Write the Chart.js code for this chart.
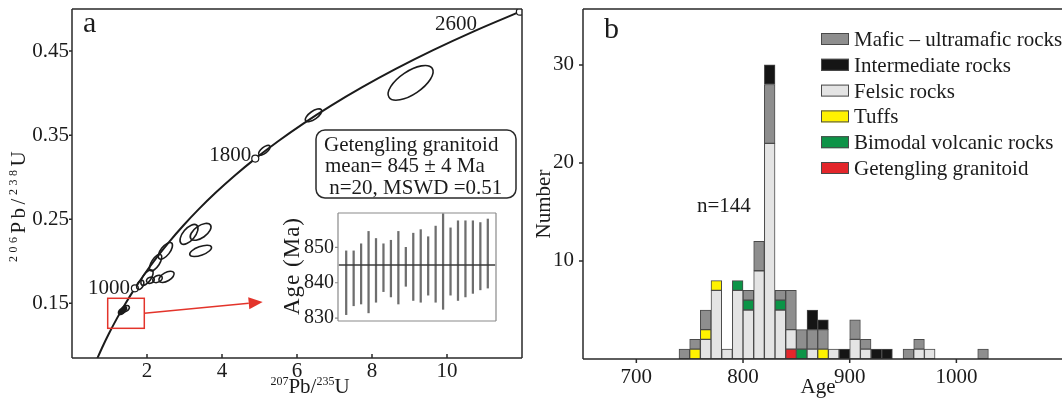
<!DOCTYPE html>
<html>
<head>
<meta charset="utf-8">
<script src="https://cdn.jsdelivr.net/npm/chart.js@4.4.1/dist/chart.umd.min.js"></script>
<style>
  body { margin: 0; background: #fff; }
  #figure { position: relative; width: 1062px; height: 405px; overflow: hidden; }
  #figure canvas { position: absolute; }
  #concordia { left: 0; top: 0; }
  #inset { left: 280px; top: 200px; }
  #histogram { left: 530px; top: 0; }
</style>
</head>
<body>
<div id="figure">
  <canvas id="concordia" width="530" height="405"></canvas>
  <canvas id="inset" width="222" height="130"></canvas>
  <canvas id="histogram" width="532" height="405"></canvas>
</div>
<script>
// ---- panel a: U-Pb concordia ----
// concordia reference curve (Ma) with its 207Pb/235U and 206Pb/238U ratios
const concordiaAge = [500, 600, 700, 800, 900, 1000, 1100, 1200, 1300, 1400, 1500,
  1600, 1700, 1800, 1900, 2000, 2100, 2200, 2300, 2400, 2500, 2600];
const concordiaX = [0.6363, 0.8056, 0.9925, 1.1987, 1.4263, 1.6774, 1.9545, 2.2603,
  2.5977, 2.9701, 3.3810, 3.8344, 4.3348, 4.8869, 5.4962, 6.1685, 6.9105, 7.7292,
  8.6326, 9.6296, 10.7297, 11.9437];
const concordiaY = [0.08065, 0.09754, 0.11470, 0.13213, 0.14983, 0.16782, 0.18607,
  0.20460, 0.22343, 0.24256, 0.26199, 0.28172, 0.30176, 0.32210, 0.34277, 0.36377,
  0.38509, 0.40674, 0.42873, 0.45107, 0.47375, 0.49679];
const markedAges = [1000, 1800, 2600];

// zircon analyses: ellipse centre, semi-major axis (ratio units), minor/major
const ellipseX = [9.03, 6.44, 5.13, 2.00, 2.23, 2.49, 2.09, 2.28, 2.52, 3.12, 3.43, 3.43, 1.82, 1.33, 1.42, 1.38];
const ellipseY = [0.4122, 0.3736, 0.3320, 0.1806, 0.1985, 0.2124, 0.1775, 0.1790, 0.1815,
  0.2320, 0.2350, 0.2124, 0.1720, 0.1405, 0.1435, 0.1425];
const ellipseDX = [0.575, 0.210, 0.147, 0.138, 0.138, 0.164, 0.100, 0.121, 0.196,
  0.206, 0.262, 0.288, 0.067, 0.082, 0.104, 0.060];
const ellipseDY = [0.01727, 0.00654, 0.00512, 0.00876, 0.00947, 0.00936, 0.00162, 0.00251,
  0.00505, 0.01092, 0.00818, 0.00467, 0.00514, 0.00305, 0.00267, 0.00318];
const ellipseRatio = [0.44, 0.42, 0.42, 0.45, 0.42, 0.45, 0.75, 0.65, 0.5, 0.5, 0.5, 0.38, 0.6, 0.6, 0.6, 0.6];
const ellipseFilled = [false, false, false, false, false, false, false, false, false,
  false, false, false, false, true, false, true];

const ratioXTicks = [2, 4, 6, 8, 10];
const ratioYTicks = [0.15, 0.25, 0.35, 0.45];

// enlarged region and where its arrow points
const zoomBoxX = [0.952, 1.928];
const zoomBoxY = [0.1203, 0.156];
const arrowTip = [5.085, 0.1516];

// weighted mean inset
const spotNo = [1, 2, 3, 4, 5, 6, 7, 8, 9, 10, 11, 12, 13, 14, 15, 16, 17, 18, 19, 20];
const spotLow = [831, 833.5, 834, 831.5, 834.5, 837.5, 836, 834, 839, 835,
  834.5, 836.5, 834.5, 832.5, 836.5, 835, 836, 837, 838, 838.5];
const spotHigh = [849, 849, 851, 854.5, 852.5, 851, 852, 854.5, 850, 854,
  855, 853, 856, 859.5, 855.5, 857.5, 857.5, 857.5, 857, 858];
const meanAge = 845;
const meanSpan = [0, 21];
const insetTicks = [830, 840, 850];

// ---- panel b: age histogram, 10 Ma bins ----
const binStart = [740, 750, 760, 770, 780, 790, 800, 810, 820, 830, 840, 850,
  860, 870, 880, 890, 900, 910, 920, 930, 950, 960, 970, 1020];
const binWidth = 10;
const getenglingCounts =   [0, 0, 0, 0, 0, 0, 0, 0, 0, 0, 1, 0, 0, 0, 0, 0, 0, 0, 0, 0, 0, 0, 0, 0];
const felsicCounts =       [0, 0, 2, 7, 1, 7, 5, 9, 22, 5, 2, 0, 1, 0, 1, 0, 2, 1, 0, 0, 0, 1, 1, 0];
const tuffCounts =         [0, 1, 1, 1, 0, 0, 0, 0, 0, 0, 0, 0, 0, 1, 0, 0, 0, 0, 0, 0, 0, 0, 0, 0];
const bimodalCounts =      [0, 0, 0, 0, 0, 1, 1, 0, 0, 1, 0, 1, 0, 0, 0, 0, 0, 0, 0, 0, 0, 0, 0, 0];
const maficCounts =        [1, 1, 2, 0, 0, 0, 1, 3, 6, 1, 4, 2, 2, 2, 0, 0, 2, 1, 0, 0, 1, 1, 0, 1];
const intermediateCounts = [0, 0, 0, 0, 0, 0, 0, 0, 2, 0, 0, 0, 2, 1, 0, 1, 0, 0, 1, 1, 0, 0, 0, 0];
const ageTicks = [700, 800, 900, 1000];
const numberTicks = [10, 20, 30];
const legendOrder = ["Mafic – ultramafic rocks", "Intermediate rocks", "Felsic rocks",
  "Tuffs", "Bimodal volcanic rocks", "Getengling granitoid"];

const SERIF = "'Liberation Serif', 'Times New Roman', serif";
const INK = "#1b1b1b";
const EDGE = "#4a4a4a";
const RED = "#e3342b";

const groupColor = {
  "Getengling granitoid": "#e3262b",
  "Felsic rocks": "#e4e4e4",
  "Tuffs": "#fff200",
  "Bimodal volcanic rocks": "#0c9447",
  "Mafic – ultramafic rocks": "#8e8e8e",
  "Intermediate rocks": "#151515",
};

// stacking order, bottom to top
const rockGroups = [
  ["Getengling granitoid", getenglingCounts],
  ["Felsic rocks", felsicCounts],
  ["Tuffs", tuffCounts],
  ["Bimodal volcanic rocks", bimodalCounts],
  ["Mafic – ultramafic rocks", maficCounts],
  ["Intermediate rocks", intermediateCounts],
];

Chart.defaults.font.family = SERIF;
Chart.defaults.font.size = 21;
Chart.defaults.color = INK;
Chart.defaults.animation = false;

// fixed axis box sizes, no extra room for end labels
function fixedSize(prop, size) {
  return (s) => {
    s[prop] = size;
    s.paddingTop = 0;
    s.paddingBottom = 0;
    s.paddingLeft = 0;
    s.paddingRight = 0;
  };
}

// text with raised isotope numbers, centred on (x, y)
function drawRich(ctx, parts, x, y, angle, size, spacing = 0) {
  const fontFor = (p) => `${p.sup ? Math.round(size * 0.58) : size}px ${SERIF}`;
  ctx.save();
  ctx.translate(x, y);
  ctx.rotate(angle);
  ctx.textAlign = "left";
  ctx.textBaseline = "alphabetic";
  ctx.fillStyle = INK;
  if ("letterSpacing" in ctx) ctx.letterSpacing = `${spacing}px`;
  let total = 0;
  parts.forEach((p) => {
    ctx.font = fontFor(p);
    total += ctx.measureText(p.text).width;
  });
  let cx = -total / 2;
  parts.forEach((p) => {
    ctx.font = fontFor(p);
    ctx.fillText(p.text, cx, p.sup ? -size * 0.4 : 0);
    cx += ctx.measureText(p.text).width;
  });
  ctx.restore();
}

function drawText(ctx, text, x, y, opts = {}) {
  ctx.save();
  ctx.font = `${opts.size || 21}px ${SERIF}`;
  ctx.fillStyle = INK;
  ctx.textAlign = opts.align || "left";
  ctx.textBaseline = "alphabetic";
  if (opts.spacing && "letterSpacing" in ctx) ctx.letterSpacing = `${opts.spacing}px`;
  ctx.translate(x, y);
  if (opts.angle) ctx.rotate(opts.angle);
  ctx.fillText(text, 0, 0);
  ctx.restore();
}

// axis box plus tick marks (positive = outward)
const framePlugin = {
  id: "frame",
  afterDraw(chart, args, opts) {
    const { ctx, chartArea: a, scales } = chart;
    ctx.save();
    ctx.strokeStyle = opts.color;
    ctx.lineWidth = opts.width;
    ctx.beginPath();
    if (opts.sides.includes("top")) { ctx.moveTo(a.left, a.top); ctx.lineTo(a.right, a.top); }
    if (opts.sides.includes("right")) { ctx.moveTo(a.right, a.top); ctx.lineTo(a.right, a.bottom); }
    if (opts.sides.includes("bottom")) { ctx.moveTo(a.left, a.bottom); ctx.lineTo(a.right, a.bottom); }
    if (opts.sides.includes("left")) { ctx.moveTo(a.left, a.top); ctx.lineTo(a.left, a.bottom); }
    if (opts.xTick) {
      scales.x.ticks.forEach((t) => {
        const px = scales.x.getPixelForValue(t.value);
        ctx.moveTo(px, a.bottom);
        ctx.lineTo(px, a.bottom + opts.xTick);
      });
    }
    if (opts.yTick) {
      scales.y.ticks.forEach((t) => {
        const py = scales.y.getPixelForValue(t.value);
        ctx.moveTo(a.left, py);
        ctx.lineTo(a.left - opts.yTick, py);
      });
    }
    ctx.stroke();
    ctx.restore();
  },
};

const ellipsePlugin = {
  id: "ellipses",
  afterDatasetsDraw(chart) {
    const { ctx, chartArea: a, scales: { x, y } } = chart;
    ctx.save();
    ctx.beginPath();
    ctx.rect(a.left, a.top, a.right - a.left, a.bottom - a.top);
    ctx.clip();
    ctx.strokeStyle = INK;
    ctx.fillStyle = INK;
    ctx.lineWidth = 1.6;
    ellipseX.forEach((cx, i) => {
      const px = x.getPixelForValue(cx);
      const py = y.getPixelForValue(ellipseY[i]);
      const ex = x.getPixelForValue(cx + ellipseDX[i]) - px;
      const ey = y.getPixelForValue(ellipseY[i] + ellipseDY[i]) - py;
      const major = Math.hypot(ex, ey);
      ctx.beginPath();
      ctx.ellipse(px, py, major, major * ellipseRatio[i], Math.atan2(ey, ex), 0, Math.PI * 2);
      if (ellipseFilled[i]) ctx.fill();
      ctx.stroke();
    });
    ctx.restore();
  },
};

const concordiaNotes = {
  id: "concordiaNotes",
  afterDraw(chart) {
    const { ctx, scales: { x, y } } = chart;
    const labelShift = [[-5, 6], [-4, 2.5], [-43, 18]];

    drawText(ctx, "a", 83, 32, { size: 30 });

    markedAges.forEach((age, k) => {
      const i = concordiaAge.indexOf(age);
      const px = x.getPixelForValue(concordiaX[i]);
      const py = y.getPixelForValue(concordiaY[i]);
      drawText(ctx, String(age), px + labelShift[k][0], py + labelShift[k][1], { align: "right" });
    });

    // mean age box
    ctx.save();
    ctx.strokeStyle = "#2a2a2a";
    ctx.lineWidth = 1.5;
    ctx.beginPath();
    ctx.roundRect(316, 130, 200, 68, 9);
    ctx.stroke();
    ctx.restore();
    drawText(ctx, "Getengling granitoid", 324, 150.5);
    drawText(ctx, "mean= 845 ± 4 Ma", 325, 172);
    drawText(ctx, " n=20, MSWD =0.51", 324, 193.5);

    // enlarged region marker
    const bx0 = x.getPixelForValue(zoomBoxX[0]);
    const bx1 = x.getPixelForValue(zoomBoxX[1]);
    const by0 = y.getPixelForValue(zoomBoxY[1]);
    const by1 = y.getPixelForValue(zoomBoxY[0]);
    const tx = x.getPixelForValue(arrowTip[0]);
    const ty = y.getPixelForValue(arrowTip[1]);
    const sy = (by0 + by1) / 2;
    ctx.save();
    ctx.strokeStyle = RED;
    ctx.fillStyle = RED;
    ctx.lineWidth = 1.5;
    ctx.strokeRect(bx0, by0, bx1 - bx0, by1 - by0);
    const ang = Math.atan2(ty - sy, tx - bx1);
    const head = 14;
    ctx.beginPath();
    ctx.moveTo(bx1, sy);
    ctx.lineTo(tx - head * Math.cos(ang), ty - head * Math.sin(ang));
    ctx.stroke();
    ctx.beginPath();
    ctx.moveTo(tx, ty);
    ctx.lineTo(tx - head * Math.cos(ang) + 6 * Math.sin(ang), ty - head * Math.sin(ang) - 6 * Math.cos(ang));
    ctx.lineTo(tx - head * Math.cos(ang) - 6 * Math.sin(ang), ty - head * Math.sin(ang) + 6 * Math.cos(ang));
    ctx.closePath();
    ctx.fill();
    ctx.restore();

    drawRich(ctx, [{ text: "207", sup: true }, { text: "Pb/" }, { text: "235", sup: true }, { text: "U" }],
      310, 393, 0, 21);
    drawRich(ctx, [{ text: "206", sup: true }, { text: "Pb/" }, { text: "238", sup: true }, { text: "U" }],
      25, 205, -Math.PI / 2, 21, 3.5);
  },
};

new Chart(document.getElementById("concordia"), {
  type: "scatter",
  data: {
    datasets: [
      {
        data: concordiaX.map((x, i) => ({ x, y: concordiaY[i] })),
        showLine: true,
        borderColor: INK,
        borderWidth: 2,
        pointRadius: 0,
        cubicInterpolationMode: "monotone",
        order: 2,
      },
      {
        data: markedAges.map((age) => {
          const i = concordiaAge.indexOf(age);
          return { x: concordiaX[i], y: concordiaY[i] };
        }),
        pointRadius: 3.5,
        pointBackgroundColor: "#fff",
        pointBorderColor: INK,
        pointBorderWidth: 1.2,
        order: 1,
      },
    ],
  },
  options: {
    responsive: false,
    events: [],
    layout: { padding: { top: 9, right: 8, left: 0, bottom: 0 } },
    scales: {
      x: {
        type: "linear",
        min: 0,
        max: 12,
        afterBuildTicks: (s) => { s.ticks = ratioXTicks.map((value) => ({ value })); },
        afterFit: fixedSize("height", 47),
        grid: { display: false, drawTicks: false },
        border: { display: false },
        ticks: { padding: 1, color: INK },
      },
      y: {
        min: 0.085,
        max: 0.5,
        afterBuildTicks: (s) => { s.ticks = ratioYTicks.map((value) => ({ value })); },
        afterFit: fixedSize("width", 72),
        grid: { display: false, drawTicks: false },
        border: { display: false },
        ticks: { padding: 3, color: INK, callback: (v) => v.toFixed(2) },
      },
    },
    plugins: {
      legend: { display: false },
      tooltip: { enabled: false },
      frame: { sides: ["top", "right", "bottom", "left"], color: "#2a2a2a", width: 1.5, xTick: -4, yTick: 3 },
    },
  },
  plugins: [ellipsePlugin, framePlugin, concordiaNotes],
});

new Chart(document.getElementById("inset"), {
  type: "bar",
  data: {
    datasets: [
      {
        type: "bar",
        data: spotNo.map((n, i) => ({ x: n, y: [spotLow[i], spotHigh[i]] })),
        backgroundColor: "#6e6e6e",
        barThickness: 1.6,
        order: 2,
      },
      {
        type: "line",
        data: meanSpan.map((x) => ({ x, y: meanAge })),
        borderColor: "#3a3a3a",
        borderWidth: 1.4,
        pointRadius: 0,
        order: 1,
      },
    ],
  },
  options: {
    responsive: false,
    events: [],
    layout: { padding: { top: 13, right: 6, left: 0, bottom: 0 } },
    scales: {
      x: {
        type: "linear",
        offset: false,
        min: -0.1,
        max: 21.1,
        afterFit: fixedSize("height", 9),
        ticks: { display: false },
        grid: { display: false, drawTicks: false },
        border: { display: false },
      },
      y: {
        min: 829.2,
        max: 859.7,
        afterBuildTicks: (s) => { s.ticks = insetTicks.map((value) => ({ value })); },
        afterFit: fixedSize("width", 58),
        grid: { display: false, drawTicks: false },
        border: { display: false },
        ticks: { padding: 4, color: INK, font: { size: 20 } },
      },
    },
    plugins: {
      legend: { display: false },
      tooltip: { enabled: false },
      frame: { sides: ["top", "right", "bottom", "left"], color: "#8a8a8a", width: 1.2, yTick: 3 },
    },
  },
  plugins: [framePlugin, {
    id: "insetTitle",
    afterDraw(chart) {
      drawText(chart.ctx, "Age (Ma)", 19, 66, { align: "center", angle: -Math.PI / 2, size: 23, spacing: 1 });
    },
  }],
});

const legendPlugin = {
  id: "rockLegend",
  afterDraw(chart) {
    const { ctx } = chart;
    legendOrder.forEach((label, k) => {
      const ds = chart.data.datasets.find((d) => d.label === label);
      const cy = 39 + k * 25.8;
      ctx.save();
      ctx.fillStyle = ds.backgroundColor;
      ctx.strokeStyle = EDGE;
      ctx.lineWidth = 1;
      ctx.fillRect(291, cy - 6, 28, 12);
      ctx.strokeRect(291.5, cy - 5.5, 27, 11);
      ctx.restore();
      drawText(ctx, label, 324, cy + 7);
    });
    drawText(ctx, "b", 74, 38, { size: 30 });
    drawText(ctx, "n=144", 167, 211.5);
    drawText(ctx, "Number", 19.5, 204, { align: "center", angle: -Math.PI / 2 });
    drawText(ctx, "Age", 288, 393, { align: "center" });
  },
};

new Chart(document.getElementById("histogram"), {
  type: "bar",
  data: {
    datasets: rockGroups.map(([label, counts]) => ({
      label,
      data: binStart.map((b, i) => ({ x: b + binWidth / 2, y: counts[i] || null })),
      backgroundColor: groupColor[label],
      borderColor: EDGE,
      borderWidth: 1,
      borderSkipped: false,
      barPercentage: 1,
      categoryPercentage: 1,
    })),
  },
  options: {
    responsive: false,
    events: [],
    layout: { padding: { top: 9, right: 0, left: 0, bottom: 0 } },
    scales: {
      x: {
        type: "linear",
        offset: false,
        stacked: true,
        min: 650,
        max: 1099,
        afterBuildTicks: (s) => { s.ticks = ageTicks.map((value) => ({ value })); },
        afterFit: fixedSize("height", 46),
        grid: { display: false, drawTicks: false },
        border: { display: false },
        ticks: { padding: 6, color: INK, callback: (v) => String(v) },
      },
      y: {
        stacked: true,
        min: 0,
        max: 35.7,
        afterBuildTicks: (s) => { s.ticks = numberTicks.map((value) => ({ value })); },
        afterFit: fixedSize("width", 53),
        grid: { display: false, drawTicks: false },
        border: { display: false },
        ticks: { padding: 9, color: INK },
      },
    },
    plugins: {
      legend: { display: false },
      tooltip: { enabled: false },
      frame: { sides: ["top", "bottom", "left"], color: "#2a2a2a", width: 1.5, xTick: 4, yTick: 4 },
    },
  },
  plugins: [framePlugin, legendPlugin],
});
</script>
</body>
</html>
